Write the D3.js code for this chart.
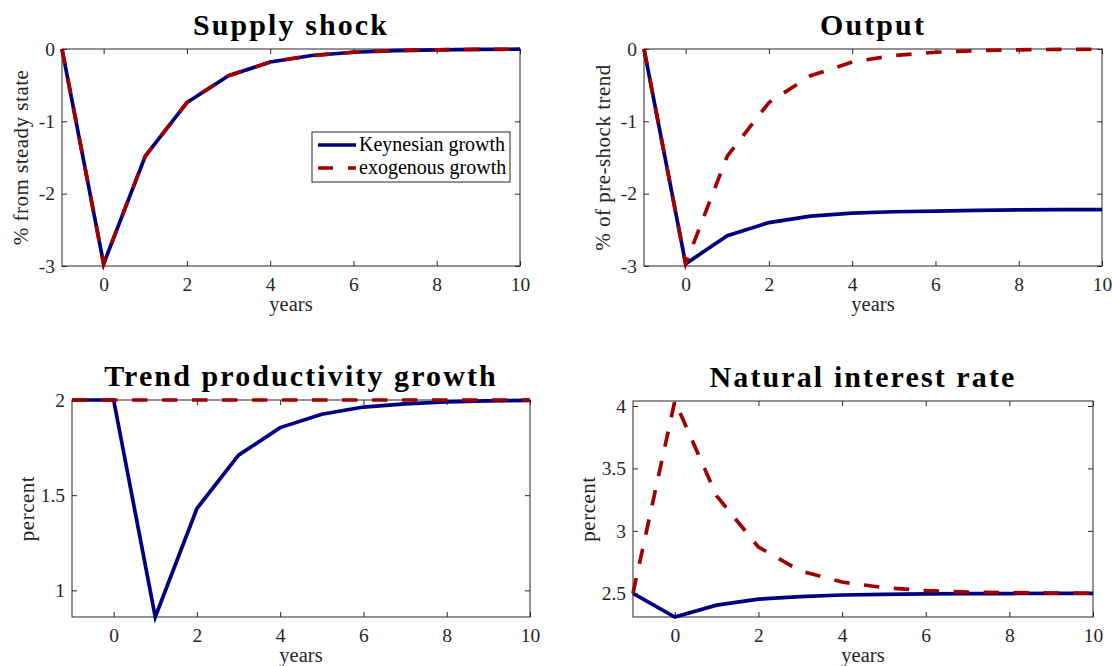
<!DOCTYPE html>
<html><head><meta charset="utf-8">
<script src="https://cdn.jsdelivr.net/npm/d3@7"></script>
<style>
body{margin:0;background:#fff;}
svg{display:block;}
text{font-family:"Liberation Serif","DejaVu Serif",serif;}
</style></head>
<body>
<svg id="c" width="1112" height="666"></svg>
<script>
const years = [-1,0,1,2,3,4,5,6,7,8,9,10];
const xTicks = [0,2,4,6,8,10];
const seriesNames = ["Keynesian growth","exogenous growth"];

const supplyKeynes = [0,-2.97,-1.48,-0.74,-0.37,-0.18,-0.09,-0.045,-0.022,-0.011,-0.005,-0.003];
const supplyExog   = [0,-2.97,-1.48,-0.74,-0.37,-0.18,-0.09,-0.045,-0.022,-0.011,-0.005,-0.003];
const outputKeynes = [0,-2.97,-2.58,-2.40,-2.31,-2.27,-2.25,-2.24,-2.23,-2.225,-2.22,-2.22];
const outputExog   = [0,-2.97,-1.48,-0.74,-0.37,-0.18,-0.09,-0.045,-0.022,-0.011,-0.005,-0.003];
const trendKeynes  = [2,2,0.86,1.43,1.71,1.855,1.925,1.963,1.98,1.99,1.995,1.998];
const trendExog    = [2,2,2,2,2,2,2,2,2,2,2,2];
const rateKeynes   = [2.5,2.31,2.405,2.453,2.473,2.486,2.492,2.495,2.497,2.498,2.499,2.5];
const rateExog     = [2.5,4.04,3.28,2.87,2.68,2.59,2.545,2.522,2.51,2.505,2.502,2.5];

const titles = ["Supply shock","Output","Trend productivity growth","Natural interest rate"];
const yLabels = ["% from steady state","% of pre-shock trend","percent","percent"];
const yTicksSupply = [0,-1,-2,-3];
const yTicksOutput = [0,-1,-2,-3];
const yTicksTrend = [1,1.5,2];
const yTicksRate = [2.5,3,3.5,4];
const xLabel = "years";

const colors = ["#00007f","#a00000"];
const svg = d3.select("#c");
const axisColor = "#262626";
const SERIF = "'Liberation Serif','DejaVu Serif',serif";

function panel(o){
  const g = svg.append("g");
  const x = d3.scaleLinear().domain([-1,10]).range([o.l,o.r]);
  const y = d3.scaleLinear().domain(o.ydom).range([o.b,o.t]);
  const w = o.r-o.l, h = o.b-o.t;
  const fmt = d => String(d);
  const ax = [
    [d3.axisBottom(x).tickValues(xTicks).tickSize(-5).tickPadding(11).tickFormat(fmt), `translate(0,${o.b})`],
    [d3.axisTop(x).tickValues(xTicks).tickSize(-5).tickFormat(""), `translate(0,${o.t})`],
    [d3.axisLeft(y).tickValues(o.yticks).tickSize(-5).tickPadding(7).tickFormat(fmt), `translate(${o.l},0)`],
    [d3.axisRight(y).tickValues(o.yticks).tickSize(-5).tickFormat(""), `translate(${o.r},0)`]
  ];
  ax.forEach(([a,tr])=>{
    const s = g.append("g").attr("transform",tr).call(a).attr("font-family",SERIF).attr("font-size",19.5);
    s.select(".domain").remove();
    s.selectAll("line").attr("stroke",axisColor).attr("stroke-width",1);
    s.selectAll("text").attr("fill",axisColor);
  });
  g.append("rect").attr("x",o.l).attr("y",o.t).attr("width",w).attr("height",h)
    .attr("fill","none").attr("stroke",axisColor).attr("stroke-width",1);
  const line = d3.line().x((d,i)=>x(years[i])).y(d=>y(d));
  g.append("path").datum(o.s1).attr("d",line).attr("fill","none")
    .attr("stroke",colors[0]).attr("stroke-width",3.7).attr("stroke-linejoin","miter");
  g.append("path").datum(o.s2).attr("d",line).attr("fill","none")
    .attr("stroke",colors[1]).attr("stroke-width",3.7).attr("stroke-dasharray","15.5,14.5");
  g.append("text").attr("x",(o.l+o.r)/2).attr("y",o.t-14).attr("text-anchor","middle")
    .attr("font-family",SERIF).attr("font-size",30).attr("font-weight","bold").style("letter-spacing","2.1px").attr("fill","#000").text(o.title);
  g.append("text").attr("x",(o.l+o.r)/2).attr("y",o.b+45).attr("text-anchor","middle")
    .attr("font-family",SERIF).attr("font-size",20.5).attr("fill",axisColor).text(xLabel);
  g.append("text").attr("transform",`translate(${o.ylx},${(o.t+o.b)/2}) rotate(-90)`).attr("text-anchor","middle")
    .attr("font-family",SERIF).attr("font-size",21).style("letter-spacing","0.5px").attr("fill",axisColor).text(o.ylabel);
  return {x,y,g};
}

panel({l:62,r:520,t:49,b:266,ydom:[-3,0],yticks:yTicksSupply,s1:supplyKeynes,s2:supplyExog,title:titles[0],ylabel:yLabels[0],ylx:28});
panel({l:644,r:1102,t:49,b:266,ydom:[-3,0],yticks:yTicksOutput,s1:outputKeynes,s2:outputExog,title:titles[1],ylabel:yLabels[1],ylx:610});
panel({l:72,r:530,t:400,b:617,ydom:[d3.min(trendKeynes),2],yticks:yTicksTrend,s1:trendKeynes,s2:trendExog,title:titles[2],ylabel:yLabels[2],ylx:34});
panel({l:633,r:1093,t:401,b:617,ydom:[d3.min(rateKeynes),d3.max(rateExog)],yticks:yTicksRate,s1:rateKeynes,s2:rateExog,title:titles[3],ylabel:yLabels[3],ylx:595});

// legend in first panel
const lg = svg.append("g");
lg.append("rect").attr("x",312).attr("y",132).attr("width",198).attr("height",50)
  .attr("fill","#fff").attr("stroke",axisColor).attr("stroke-width",1);
seriesNames.forEach((n,i)=>{
  const yy = 145 + i*23;
  lg.append("line").attr("x1",318).attr("x2",356).attr("y1",yy).attr("y2",yy)
    .attr("stroke",colors[i]).attr("stroke-width",3.7).attr("stroke-dasharray",i? "15,15":null);
  lg.append("text").attr("x",359).attr("y",yy+6).attr("font-family",SERIF).attr("font-size",20).attr("fill","#000").text(n);
});
</script>
</body></html>
